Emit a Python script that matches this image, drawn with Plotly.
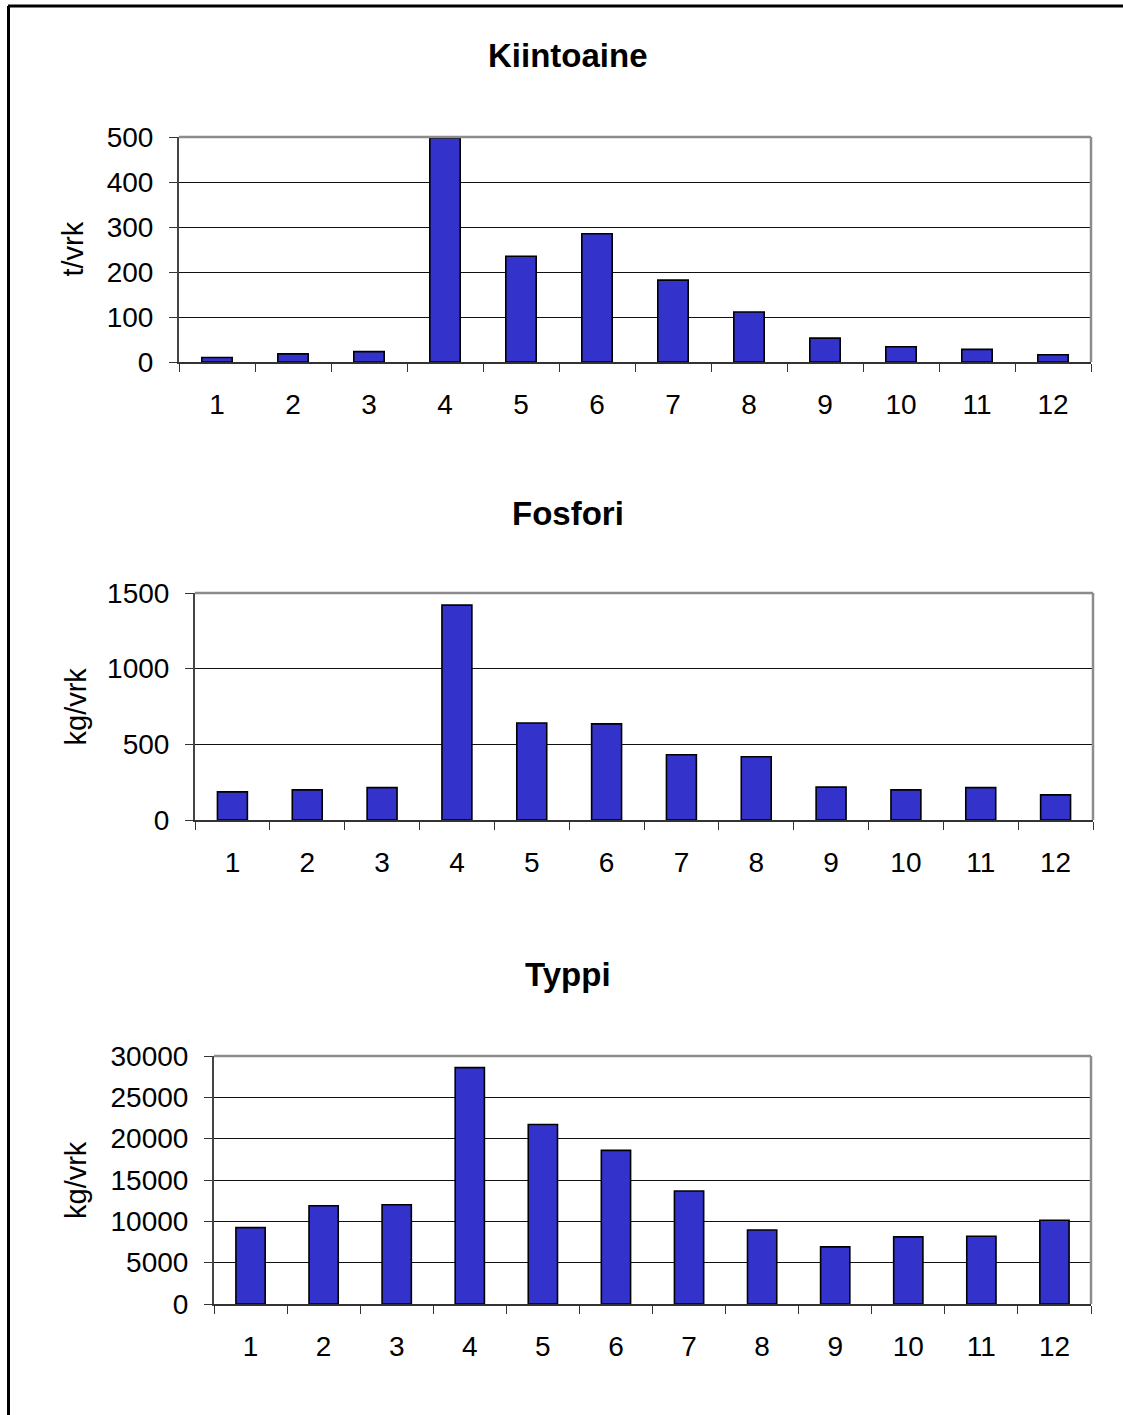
import plotly.graph_objects as go

# Monthly loads (months 1-12)
months = [str(m) for m in range(1, 13)]
kiintoaine = [10, 18, 23, 498, 235, 285, 182, 111, 53, 34, 28, 16]          # t/vrk
fosfori = [186, 199, 214, 1420, 641, 635, 431, 418, 217, 199, 214, 166]      # kg/vrk
typpi = [9240, 11890, 12010, 28590, 21710, 18580, 13670, 8960, 6910, 8120, 8200, 10130]  # kg/vrk

titles = ["Kiintoaine", "Fosfori", "Typpi"]
y_titles = ["t/vrk", "kg/vrk", "kg/vrk"]
y_ranges = [[0, 500], [0, 1500], [0, 30000]]
y_dticks = [100, 500, 5000]
series = [kiintoaine, fosfori, typpi]

W, H = 1123, 1415
# plot-area boxes in pixels: left, right, top, bottom
boxes = [(179, 1091, 137, 362), (195, 1093, 593, 820), (214, 1091, 1056, 1304)]
title_y = [55, 513, 974]
ytitle_x = [72, 75, 76]

BAR = "#3333CC"
FONT = "Liberation Sans, Arial, sans-serif"

fig = go.Figure()
shapes = []
annotations = []

for i, (vals, box) in enumerate(zip(series, boxes)):
    n = "" if i == 0 else str(i + 1)
    xa, ya = "x" + n, "y" + n
    l, r, t, b = box
    fig.add_trace(go.Bar(
        x=months, y=vals, xaxis=xa, yaxis=ya,
        marker=dict(color=BAR, line=dict(color="black", width=1.6)),
        showlegend=False,
    ))
    fig.update_layout(**{
        "xaxis" + n: dict(
            domain=[l / W, r / W], anchor=ya, type="category", automargin=False,
            tickson="boundaries", ticks="outside", ticklen=8, tickwidth=1,
            tickcolor="#333333", showline=True, linecolor="#333333", linewidth=1.5,
            showgrid=False, tickfont=dict(family=FONT, size=28, color="black"),
            ticklabelstandoff=17, fixedrange=True,
        ),
        "yaxis" + n: dict(
            domain=[1 - b / H, 1 - t / H], anchor=xa, range=y_ranges[i],
            automargin=False, tickformat="d",
            dtick=y_dticks[i], tick0=0, ticks="outside", ticklen=8, tickwidth=1,
            tickcolor="#333333", showline=True, linecolor="#444444", linewidth=2,
            showgrid=True, gridcolor="#111111", gridwidth=1, zeroline=False,
            tickfont=dict(family=FONT, size=28, color="black"),
            ticklabelstandoff=10, fixedrange=True,
        ),
    })
    # grey top and right frame of the plot area
    shapes.append(dict(type="line", xref=xa + " domain", yref=ya + " domain",
                       x0=0, x1=1, y0=1, y1=1, line=dict(color="#8c8c8c", width=2.5)))
    shapes.append(dict(type="line", xref=xa + " domain", yref=ya + " domain",
                       x0=1, x1=1, y0=0, y1=1, line=dict(color="#8c8c8c", width=2.5)))
    annotations.append(dict(text="<b>" + titles[i] + "</b>", xref="paper", yref="paper",
                            x=568 / W, y=1 - title_y[i] / H, showarrow=False,
                            xanchor="center", yanchor="middle",
                            font=dict(family=FONT, size=33, color="black")))
    annotations.append(dict(text=y_titles[i], xref="paper", yref="paper",
                            x=ytitle_x[i] / W, y=1 - (t + b) / 2 / H, showarrow=False,
                            textangle=-90, xanchor="center", yanchor="middle",
                            font=dict(family=FONT, size=29, color="black")))

# page frame
shapes.append(dict(type="line", xref="paper", yref="paper", x0=8 / W, x1=1.01,
                   y0=1 - 6 / H, y1=1 - 6 / H, line=dict(color="black", width=3)))
shapes.append(dict(type="line", xref="paper", yref="paper", x0=8.5 / W, x1=8.5 / W,
                   y0=1 - 6 / H, y1=-0.01, line=dict(color="black", width=3)))

fig.update_layout(
    template="none",
    width=W, height=H, margin=dict(l=0, r=0, t=0, b=0, autoexpand=False),
    paper_bgcolor="white", plot_bgcolor="white",
    bargap=0.6, shapes=shapes, annotations=annotations,
    font=dict(family=FONT, color="black"),
)

fig.write_html("out.html")
